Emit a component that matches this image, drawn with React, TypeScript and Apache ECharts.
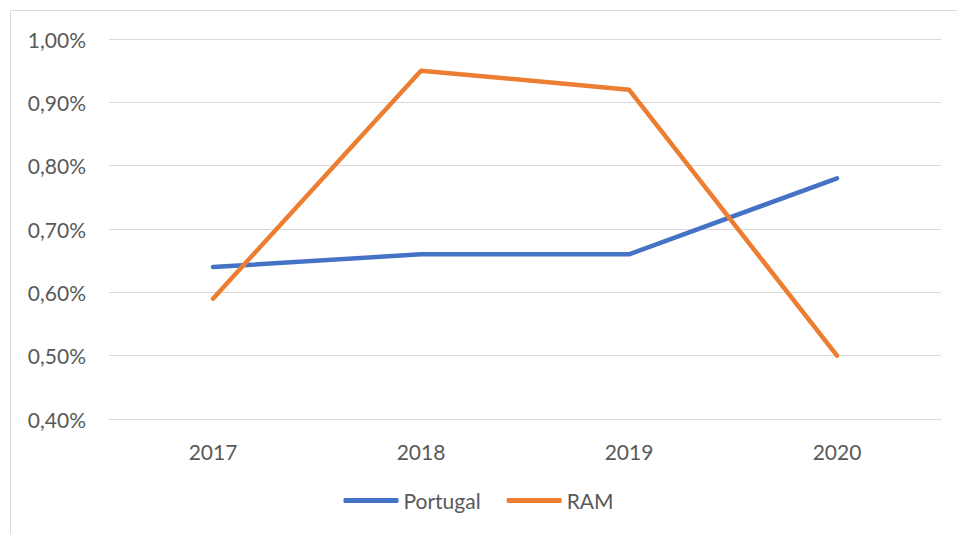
import React, { useEffect, useRef } from "react";
import * as echarts from "echarts";

const years = ["2017", "2018", "2019", "2020"];
const portugal = [0.64, 0.66, 0.66, 0.78];
const ram = [0.59, 0.95, 0.92, 0.5];
const seriesNames = ["Portugal", "RAM"];

export default function App() {
  const ref = useRef<HTMLDivElement>(null);
  useEffect(() => {
    if (!ref.current) return;
    const chart = echarts.init(ref.current, undefined, { renderer: "svg" });
    const font = "Lato, 'Open Sans', sans-serif";
    chart.setOption({
      animation: false,
      backgroundColor: "#ffffff",
      textStyle: { fontFamily: font },
      graphic: [
        {
          type: "rect",
          shape: { x: 10.5, y: 10.5, width: 960, height: 540 },
          style: { fill: "none", stroke: "#d9d9d9", lineWidth: 1 },
          silent: true,
        },
      ],
      grid: { left: 109, right: 16, top: 39, bottom: 115 },
      legend: {
        data: seriesNames,
        bottom: 18,
        left: "center",
        itemWidth: 55,
        itemHeight: 5,
        itemGap: 26,
        icon: "roundRect",
        textStyle: { color: "#595959", fontSize: 21, fontFamily: font },
      },
      xAxis: {
        type: "category",
        data: years,
        boundaryGap: true,
        axisLine: { show: true, lineStyle: { color: "#d9d9d9", width: 1 } },
        axisTick: { show: false },
        axisLabel: { color: "#595959", fontSize: 21, margin: 22, fontFamily: font },
      },
      yAxis: {
        type: "value",
        min: 0.4,
        max: 1.0,
        interval: 0.1,
        axisLine: { show: false },
        axisTick: { show: false },
        splitLine: { lineStyle: { color: "#d9d9d9", width: 1 } },
        axisLabel: {
          color: "#595959",
          fontSize: 21,
          margin: 23,
          fontFamily: font,
          formatter: (v: number) => v.toFixed(2).replace(".", ",") + "%",
        },
      },
      series: [
        {
          name: seriesNames[0],
          type: "line",
          data: portugal,
          symbol: "none",
          lineStyle: { color: "#4472C4", width: 4.5, cap: "round", join: "round" },
          itemStyle: { color: "#4472C4" },
        },
        {
          name: seriesNames[1],
          type: "line",
          data: ram,
          symbol: "none",
          lineStyle: { color: "#ED7D31", width: 4.5, cap: "round", join: "round" },
          itemStyle: { color: "#ED7D31" },
        },
      ],
    });
    return () => chart.dispose();
  }, []);
  return (
    <div
      ref={ref}
      style={{ position: "fixed", left: 0, top: 0, width: 957, height: 534 }}
    />
  );
}
